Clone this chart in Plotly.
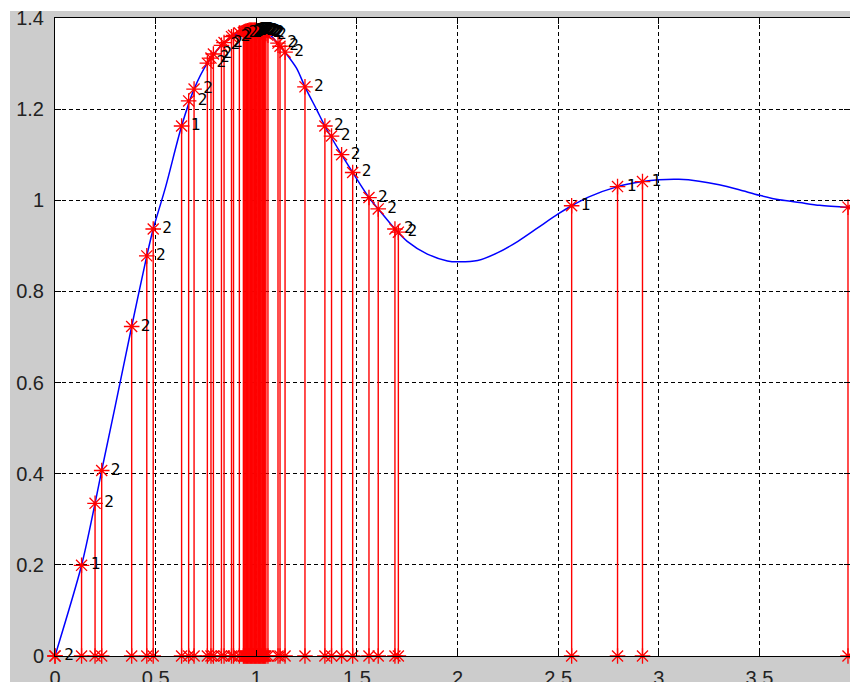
import plotly.graph_objects as go

# ---- data ----
curve_t = [0, 0.132, 0.199, 0.232, 0.30, 0.381, 0.456, 0.488, 0.55, 0.629, 0.691, 0.757,
           0.827, 0.887, 0.95, 1.0, 1.06, 1.118, 1.143, 1.2, 1.242, 1.3, 1.341, 1.424, 1.479,
           1.56, 1.606, 1.689, 1.75, 1.85, 1.95, 2.0, 2.1, 2.2, 2.3, 2.4, 2.5, 2.567, 2.65,
           2.795, 2.919, 3.0, 3.1, 3.2, 3.3, 3.4, 3.5, 3.6, 3.7, 3.8, 3.95]
curve_y = [0, 0.199, 0.335, 0.407, 0.55, 0.723, 0.878, 0.937, 1.03, 1.163, 1.244, 1.301,
           1.34, 1.362, 1.37, 1.373, 1.366, 1.338, 1.325, 1.29, 1.249, 1.199, 1.163, 1.10, 1.061,
           1.006, 0.981, 0.937, 0.91, 0.882, 0.867, 0.865, 0.868, 0.885, 0.91, 0.94, 0.97, 0.988, 1.007,
           1.03, 1.041, 1.045, 1.046, 1.042, 1.034, 1.023, 1.011, 1.001, 0.995, 0.989, 0.984]

stem_t = [0, 0.132, 0.199, 0.232, 0.381, 0.456, 0.488, 0.629, 0.664, 0.691, 0.757, 0.775, 0.787,
          0.827, 0.840, 0.877, 0.887, 0.916,
          0.936, 0.940, 0.944, 0.948, 0.952, 0.956, 0.960, 0.964, 0.968, 0.972, 0.976, 0.980,
          0.984, 0.988, 0.992, 0.996, 1.000, 1.004, 1.008, 1.012, 1.016, 1.020, 1.024, 1.028,
          1.032, 1.036, 1.040, 1.044, 1.048,
          1.058, 1.108, 1.118, 1.143, 1.242, 1.341, 1.374, 1.424, 1.479, 1.560, 1.606, 1.689,
          1.706, 2.567, 2.795, 2.919, 3.94]
stem_y = [0, 0.199, 0.335, 0.407, 0.723, 0.878, 0.937, 1.163, 1.218, 1.244, 1.301, 1.312, 1.321,
          1.34, 1.346, 1.359, 1.362, 1.367,
          1.368, 1.369, 1.370, 1.371, 1.371, 1.372, 1.372, 1.373, 1.373, 1.373, 1.373, 1.373,
          1.373, 1.373, 1.373, 1.373, 1.373, 1.372, 1.372, 1.372, 1.371, 1.371, 1.370, 1.370,
          1.369, 1.368, 1.368, 1.367, 1.366,
          1.362, 1.345, 1.338, 1.325, 1.249, 1.163, 1.141, 1.100, 1.061, 1.006, 0.981, 0.937,
          0.930, 0.988, 1.030, 1.041, 0.985]
one_label_t = [0.132, 0.629, 2.567, 2.795, 2.919]

x_ticks = [0, 0.5, 1, 1.5, 2, 2.5, 3, 3.5]
x_ticktext = ["0", "0.5", "1", "1.5", "2", "2.5", "3", "3.5"]
y_ticks = [0, 0.2, 0.4, 0.6, 0.8, 1.0, 1.2, 1.4]
y_ticktext = ["0", "0.2", "0.4", "0.6", "0.8", "1", "1.2", "1.4"]

# ---- build ----
stem_x, stem_yy = [], []
for t, v in zip(stem_t, stem_y):
    stem_x += [t, t, None]
    stem_yy += [0, v, None]

labels = ["1" if t in one_label_t else "2" for t in stem_t]

star = dict(symbol="asterisk-open", size=13, color="#ff0000",
            line=dict(color="#ff0000", width=1.3))

fig = go.Figure()
fig.add_trace(go.Scatter(x=curve_t, y=curve_y, mode="lines",
                         line=dict(color="#0000ff", width=1.5, shape="spline", smoothing=0.8),
                         hoverinfo="skip"))
fig.add_trace(go.Scatter(x=stem_x, y=stem_yy, mode="lines",
                         line=dict(color="#ff0000", width=1.4), hoverinfo="skip"))
fig.add_trace(go.Scatter(x=stem_t, y=[0] * len(stem_t), mode="markers", cliponaxis=False,
                         marker=star))
fig.add_trace(go.Scatter(x=stem_t, y=stem_y, mode="markers+text", cliponaxis=False,
                         text=labels, textposition="middle right",
                         textfont=dict(family="DejaVu Sans Mono", size=16, color="#000000"),
                         marker=star))

axis_common = dict(showline=True, linecolor="#000000", linewidth=1, mirror="ticks",
                   ticks="inside", ticklen=6, tickcolor="#000000", tickwidth=1,
                   showgrid=True, gridcolor="#000000", gridwidth=1, griddash="4px,3px",
                   zeroline=False,
                   tickfont=dict(family="Liberation Sans", size=20, color="#222222"))

fig.update_xaxes(range=[0, 3.95], tickmode="array", tickvals=x_ticks, ticktext=x_ticktext,
                 ticklabelstandoff=4, **axis_common)
fig.update_yaxes(range=[0, 1.4], tickmode="array", tickvals=y_ticks, ticktext=y_ticktext,
                 ticklabelstandoff=6, **axis_common)

white = dict(type="rect", xref="paper", yref="paper", fillcolor="#ffffff",
             line=dict(width=0), layer="above")
fig.update_layout(
    width=850, height=692,
    margin=dict(l=55, r=0, t=18, b=36, autoexpand=False),
    paper_bgcolor="#cccccc", plot_bgcolor="#ffffff",
    showlegend=False,
    shapes=[
        dict(white, x0=-0.08, x1=1.02, y0=1.011, y1=1.05),
        dict(white, x0=-0.08, x1=-0.0566, y0=-0.07, y1=1.05),
        dict(white, x0=-0.08, x1=1.02, y0=-0.07, y1=-0.0408),
    ],
)

fig.write_html("out.html", config={"displayModeBar": False},
               post_script="document.body.style.margin='0';document.body.style.overflow='hidden';")
